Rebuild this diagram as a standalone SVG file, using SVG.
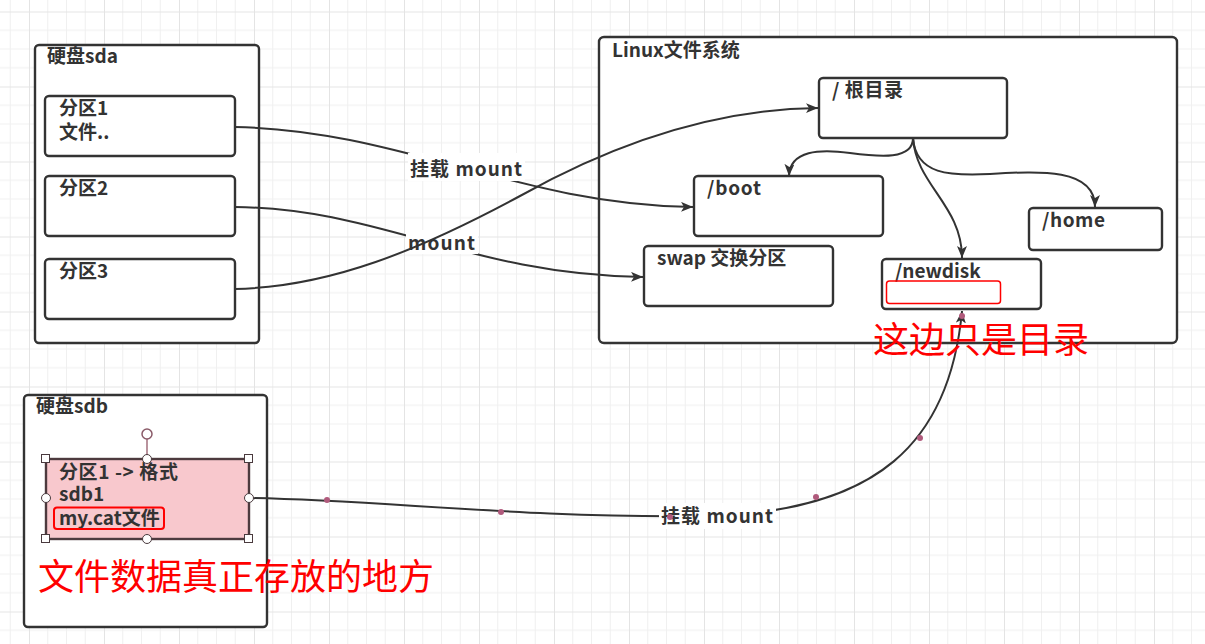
<svg xmlns="http://www.w3.org/2000/svg" width="1205" height="644" viewBox="0 0 1205 644">
<defs>
<style>
.box{fill:#fff;stroke:#333;stroke-width:2.4}
.t{font-family:"Noto Sans CJK SC","Noto Sans",sans-serif;font-weight:bold;font-size:19px;fill:#333}
.red{font-family:"Noto Sans CJK SC","Noto Sans",sans-serif;font-size:36px;fill:#ff0000}
.c{fill:none;stroke:#333;stroke-width:2}
.lbg{fill:#fff}
.h{fill:#fff;stroke:#4a3a3e;stroke-width:1}
.wp{fill:#b05a7c}
</style>
<pattern id="grid" patternUnits="userSpaceOnUse" x="29" y="11.5" width="75" height="75">
<rect width="75" height="75" fill="#fff"/>
<path d="M18.75 0V75M37.5 0V75M56.25 0V75M0 18.75H75M0 37.5H75M0 56.25H75" stroke="#f0f0f0" stroke-width="1" fill="none"/>
<path d="M0.5 0V75M0 0.5H75" stroke="#e4e4e4" stroke-width="1" fill="none"/>
</pattern>
<marker id="arr" markerUnits="userSpaceOnUse" markerWidth="14" markerHeight="12" refX="12" refY="5" orient="auto">
<path d="M0,0 L12,5 L0,10 L3,5 Z" fill="#333"/>
</marker>
</defs>
<rect width="1205" height="644" fill="url(#grid)"/>

<g id="sda">
<rect class="box" x="35" y="45" width="224" height="298" rx="4"/>
<text class="t" x="47" y="63">硬盘sda</text>
</g>
<g id="sda-p1">
<rect class="box" x="45" y="96" width="190" height="60" rx="4"/>
<text class="t"><tspan x="59" y="115">分区1</tspan><tspan x="59" y="139">文件..</tspan></text>
</g>
<g id="sda-p2">
<rect class="box" x="45" y="176" width="190" height="60" rx="4"/>
<text class="t" x="59" y="195">分区2</text>
</g>
<g id="sda-p3">
<rect class="box" x="45" y="259" width="190" height="60" rx="4"/>
<text class="t" x="59" y="278">分区3</text>
</g>

<g id="linux">
<rect class="box" x="599" y="37" width="578" height="306" rx="5"/>
<text class="t" x="612" y="57">Linux文件系统</text>
</g>
<g id="root">
<rect class="box" x="819" y="78" width="188" height="60" rx="4"/>
<text class="t" x="832" y="97" textLength="71">/ 根目录</text>
</g>
<g id="boot">
<rect class="box" x="694" y="176" width="189" height="60" rx="4"/>
<text class="t" x="707" y="195" textLength="54">/boot</text>
</g>
<g id="home">
<rect class="box" x="1029" y="208" width="133" height="42" rx="4"/>
<text class="t" x="1042" y="227" textLength="63">/home</text>
</g>
<g id="swap">
<rect class="box" x="644" y="246" width="189" height="60" rx="4"/>
<text class="t" x="657" y="265">swap 交换分区</text>
</g>
<g id="newdisk">
<rect class="box" x="882" y="259" width="159" height="50" rx="4"/>
<text class="t" x="895" y="278">/newdisk</text>
<rect x="886.5" y="281" width="114" height="22.5" rx="3" fill="none" stroke="#ff0000" stroke-width="1.5"/>
</g>

<g id="sdb">
<rect class="box" x="24" y="395" width="243" height="232" rx="4"/>
<text class="t" x="36" y="413">硬盘sdb</text>
</g>

<g id="connectors">
<path class="c" d="M235,127 C400,130 520,205 693,207" marker-end="url(#arr)"/>
<rect class="lbg" x="408" y="153" width="117" height="28"/>
<text class="t" x="410" y="176" textLength="112">挂载 mount</text>
<path class="c" d="M235,207 C380,208 470,275 643,277" marker-end="url(#arr)"/>
<rect class="lbg" x="406" y="230" width="72" height="24"/>
<text class="t" x="408" y="250" textLength="67">mount</text>
<path class="c" d="M235,289 C330,287 420,250 520,196 C620,140 720,109 818,108" marker-end="url(#arr)"/>
<path class="c" d="M913,138 C913,160 880,157 850,153 C820,149 790,150 789,176" marker-end="url(#arr)"/>
<path class="c" d="M913,138 C916,175 950,176 990,174 C1040,171 1095,168 1095,207" marker-end="url(#arr)"/>
<path class="c" d="M913,138 C916,185 962,205 962,258" marker-end="url(#arr)"/>
<path class="c" d="M249,498 C380,500 520,518 700,516 S950,440 962,311" marker-end="url(#arr)"/>
<rect class="lbg" x="659" y="503" width="117" height="26"/>
<text class="t" x="661" y="523" textLength="112">挂载 mount</text>
<circle class="wp" cx="327" cy="500" r="3"/>
<circle class="wp" cx="501" cy="512" r="3"/>
<circle class="wp" cx="670" cy="517" r="3"/>
<circle class="wp" cx="816" cy="497" r="3"/>
<circle class="wp" cx="920" cy="438" r="3"/>
<circle class="wp" cx="962" cy="316" r="3"/>
</g>

<g id="sdb-p1">
<rect x="46" y="459" width="203" height="80" fill="#f8c8cd" stroke="#4d3a3e" stroke-width="2.4"/>
<text class="t"><tspan x="59" y="479" textLength="119">分区1 -&gt; 格式</tspan><tspan x="59" y="501">sdb1</tspan><tspan x="59" y="525">my.cat文件</tspan></text>
<rect x="54" y="507.5" width="110" height="21.5" rx="3" fill="none" stroke="#ff0000" stroke-width="2"/>
<line x1="147" y1="439" x2="147" y2="459" stroke="#8a4a5c" stroke-width="1.2"/>
<circle cx="147" cy="434" r="5" fill="#fff" stroke="#8a5a68" stroke-width="1.5"/>
<rect class="h" x="41.5" y="454.5" width="8" height="8"/>
<rect class="h" x="244.5" y="454.5" width="8" height="8"/>
<rect class="h" x="41.5" y="534.5" width="8" height="8"/>
<rect class="h" x="244.5" y="534.5" width="8" height="8"/>
<circle class="h" cx="147" cy="459" r="4.5"/>
<circle class="h" cx="147" cy="539" r="4.5"/>
<circle class="h" cx="46" cy="498" r="4.5"/>
<circle class="h" cx="249" cy="498" r="4.5"/>
</g>

<g id="notes">
<text class="red" x="38" y="590">文件数据真正存放的地方</text>
<text class="red" x="873" y="353">这边只是目录</text>
</g>
</svg>
